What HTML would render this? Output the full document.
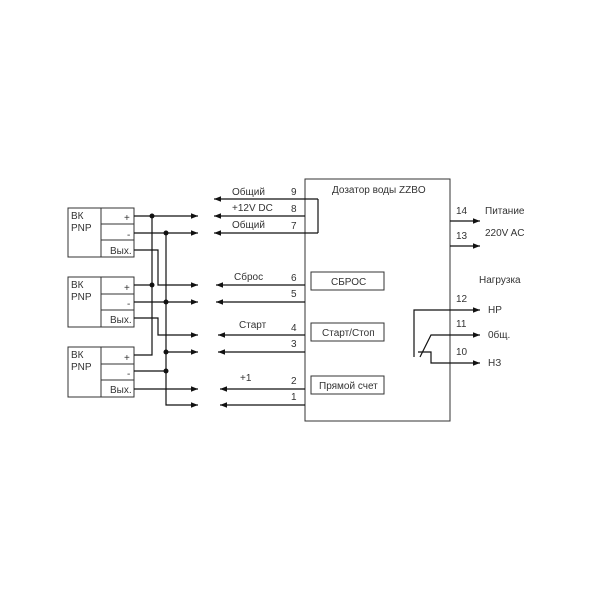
<!DOCTYPE html>
<html><head><meta charset="utf-8"><style>html,body{margin:0;padding:0;background:#fff}svg{display:block}text{font-family:"Liberation Sans",sans-serif;font-size:10px;fill:#333}</style></head>
<body>
<svg width="600" height="600" viewBox="0 0 600 600" xmlns="http://www.w3.org/2000/svg">
<defs>
<marker id="a" viewBox="0 0 10 10" refX="10" refY="5" markerWidth="7" markerHeight="7" markerUnits="userSpaceOnUse" orient="auto"><path d="M0,1 L10,5 L0,9z" fill="#111"/></marker>
</defs>
<g stroke="#333" stroke-width="1" fill="none">
<!-- sensor boxes -->
<rect x="68" y="208" width="66" height="49"/><line x1="101" y1="208" x2="101" y2="257"/><line x1="101" y1="224" x2="134" y2="224"/><line x1="101" y1="240" x2="134" y2="240"/>
<rect x="68" y="277" width="66" height="50"/><line x1="101" y1="277" x2="101" y2="327"/><line x1="101" y1="294" x2="134" y2="294"/><line x1="101" y1="310" x2="134" y2="310"/>
<rect x="68" y="347" width="66" height="50"/><line x1="101" y1="347" x2="101" y2="397"/><line x1="101" y1="364" x2="134" y2="364"/><line x1="101" y1="380" x2="134" y2="380"/>
<!-- main box -->
<rect x="305" y="179" width="145" height="242"/>
<rect x="311" y="272" width="73" height="18"/>
<rect x="311" y="323" width="73" height="18"/>
<rect x="311" y="376" width="73" height="18"/>
</g>
<g stroke="#111" stroke-width="1.2" fill="none">
<!-- sensor to arrows -->
<line x1="134" y1="216" x2="198" y2="216" marker-end="url(#a)"/>
<line x1="134" y1="233" x2="198" y2="233" marker-end="url(#a)"/>
<polyline points="134,250 158,250 158,285 198,285" marker-end="url(#a)"/>
<polyline points="134,285 152,285"/>
<line x1="134" y1="302" x2="198" y2="302" marker-end="url(#a)"/>
<polyline points="134,318 158,318 158,335 198,335" marker-end="url(#a)"/>
<polyline points="134,355 152,355 152,216"/>
<line x1="134" y1="371" x2="166" y2="371"/>
<polyline points="166,233 166,405 198,405" marker-end="url(#a)"/>
<line x1="166" y1="352" x2="198" y2="352" marker-end="url(#a)"/>
<line x1="134" y1="389" x2="198" y2="389" marker-end="url(#a)"/>
<!-- box pins -->
<polyline points="318,199 318,233"/>
<line x1="318" y1="199" x2="214" y2="199" marker-end="url(#a)"/>
<line x1="305" y1="216" x2="214" y2="216" marker-end="url(#a)"/>
<line x1="318" y1="233" x2="214" y2="233" marker-end="url(#a)"/>
<line x1="305" y1="285" x2="216" y2="285" marker-end="url(#a)"/>
<line x1="305" y1="302" x2="216" y2="302" marker-end="url(#a)"/>
<line x1="305" y1="335" x2="218" y2="335" marker-end="url(#a)"/>
<line x1="305" y1="352" x2="218" y2="352" marker-end="url(#a)"/>
<line x1="305" y1="389" x2="220" y2="389" marker-end="url(#a)"/>
<line x1="305" y1="405" x2="220" y2="405" marker-end="url(#a)"/>
<!-- right -->
<line x1="450" y1="221" x2="480" y2="221" marker-end="url(#a)"/>
<line x1="450" y1="246" x2="480" y2="246" marker-end="url(#a)"/>
<polyline points="414,357 414,310 480,310" marker-end="url(#a)"/>
<polyline points="420,357 431,335 480,335" marker-end="url(#a)"/>
<polyline points="418,352 431,352 431,363 480,363" marker-end="url(#a)"/>
</g>
<g fill="#111">
<circle cx="152" cy="216" r="2.5"/><circle cx="166" cy="233" r="2.5"/>
<circle cx="152" cy="285" r="2.5"/><circle cx="166" cy="302" r="2.5"/>
<circle cx="166" cy="352" r="2.5"/><circle cx="166" cy="371" r="2.5"/>
</g>
<g>
<text x="71" y="219">ВК</text><text x="71" y="231">PNP</text>
<text x="124" y="221">+</text><text x="127" y="238">-</text><text x="110" y="254">Вых.</text>
<text x="71" y="288">ВК</text><text x="71" y="300">PNP</text>
<text x="124" y="291">+</text><text x="127" y="307">-</text><text x="110" y="323">Вых.</text>
<text x="71" y="358">ВК</text><text x="71" y="370">PNP</text>
<text x="124" y="361">+</text><text x="127" y="377">-</text><text x="110" y="393">Вых.</text>
<text x="232" y="195">Общий</text><text x="291" y="195">9</text>
<text x="232" y="211">+12V DC</text><text x="291" y="212">8</text>
<text x="232" y="228">Общий</text><text x="291" y="229">7</text>
<text x="234" y="280">Сброс</text><text x="291" y="281">6</text>
<text x="291" y="297">5</text>
<text x="239" y="328">Старт</text><text x="291" y="331">4</text>
<text x="291" y="347">3</text>
<text x="240" y="381">+1</text><text x="291" y="384">2</text>
<text x="291" y="400">1</text>
<text x="332" y="193">Дозатор воды ZZBO</text>
<text x="331" y="285">СБРОС</text>
<text x="322" y="336">Старт/Стоп</text>
<text x="319" y="389">Прямой счет</text>
<text x="456" y="214">14</text><text x="485" y="214">Питание</text>
<text x="456" y="239">13</text><text x="485" y="236">220V AC</text>
<text x="479" y="283">Нагрузка</text>
<text x="456" y="302">12</text><text x="488" y="313">НР</text>
<text x="456" y="327">11</text><text x="488" y="338">0бщ.</text>
<text x="456" y="355">10</text><text x="488" y="366">НЗ</text>
</g>
</svg>
</body></html>
